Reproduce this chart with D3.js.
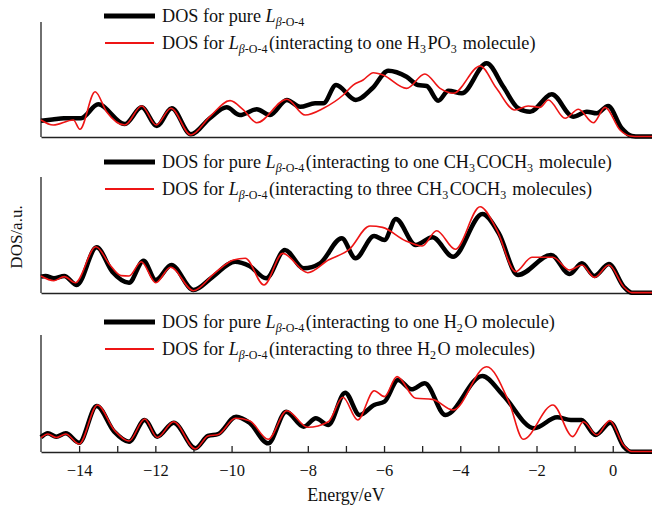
<!DOCTYPE html>
<html>
<head>
<meta charset="utf-8">
<script src="https://cdn.jsdelivr.net/npm/d3@7"></script>
<style>
body { margin: 0; background: #fff; }
text { font-family: "Liberation Serif", "Times New Roman", serif; fill: #111; }
</style>
</head>
<body>
<svg id="dos-chart"></svg>
<script>
(function () {
var width = 652, height = 506

// [energy eV, DOS a.u.], panel 1 (H3PO3)
var pureL = [[-15,1.42],[-14.7,1.52],[-14.4,1.63],[-13.95,1.63],[-13.5,2.84],[-12.8,1.13],[-12.36,2.58],
  [-11.96,0.96],[-11.57,2.5],[-11.07,0.23],[-10.57,1.63],[-10.13,2.58],[-9.78,1.91],[-9.34,2.41],[-8.99,1.91],
  [-8.55,3.22],[-8.2,2.63],[-7.81,2.93],[-7.59,2.93],[-7.26,4.52],[-6.74,3.22],[-6.3,4.26],[-5.89,5.77],
  [-5.41,5.24],[-5.11,4.52],[-4.88,4.43],[-4.58,3.16],[-4.31,4.03],[-3.96,3.8],[-3.31,6.41],[-2.87,4.37],
  [-2.48,2.5],[-2.17,2.2],[-1.6,3.71],[-1.04,1.77],[-0.68,2.2],[-0.42,2.06],[-0.12,2.7],[0.23,0.78],
  [0.5,0.09],[0.7,0.04],[1.03,0.04]]
var withH3PO3 = [[-15,1.48],[-14.68,1.04],[-14.15,1.48],[-13.98,0.67],[-13.58,3.94],[-13.28,2.2],[-12.8,1.04],
  [-12.36,2.7],[-11.98,1.04],[-11.59,2.5],[-11.07,0.17],[-10.57,1.77],[-10.04,3.16],[-9.69,2.35],[-9.34,1.24],
  [-8.55,3.28],[-8.07,1.91],[-7.59,2.5],[-7.07,3.65],[-6.81,4.52],[-6.55,4.96],[-6.28,5.59],[-6.03,5.39],
  [-5.41,4.23],[-4.93,5.48],[-4.53,4.23],[-4.18,3.8],[-3.48,6.17],[-3.05,4.23],[-2.57,2.35],[-2.22,2.7],
  [-1.91,2.58],[-1.69,3.22],[-1.25,1.63],[-0.9,2.41],[-0.51,1.24],[-0.2,2.58],[0.19,0.61],[0.45,0.09],
  [0.7,0.04],[1.03,0.04]]

// panel 2 (CH3COCH3)
var oneAcetone = [[-15,1.41],[-14.88,1.47],[-14.66,1.27],[-14.39,1.47],[-14.06,0.69],[-13.54,3.94],[-13.13,1.84],
  [-12.69,0.89],[-12.31,2.78],[-11.99,1.12],[-11.58,2.41],[-11,0.26],[-10.51,1.35],[-9.91,2.7],[-9.53,2.33],
  [-9.09,1.27],[-8.6,3.71],[-8.11,2.13],[-7.68,2.56],[-7.11,4.72],[-6.75,2.99],[-6.26,4.91],[-5.99,4.57],
  [-5.69,6.38],[-5.17,4.14],[-4.73,4.8],[-4.19,3.13],[-3.42,6.81],[-2.99,5.15],[-2.49,1.55],[-1.62,3.28],
  [-1.13,1.64],[-0.81,2.56],[-0.48,1.47],[-0.1,2.5],[0.29,0.54],[0.5,0.03],[1.03,0.03]]
var threeAcetone = [[-15,1.47],[-14.66,1.06],[-14.39,1.41],[-14.1,0.89],[-13.56,3.99],[-13.19,2.41],[-12.9,1.5],
  [-12.69,1.47],[-12.37,2.7],[-11.99,0.89],[-11.6,2.22],[-11,0.2],[-10.45,1.7],[-9.95,2.84],[-9.64,2.99],
  [-9.15,0.69],[-8.66,3.42],[-8,1.75],[-7.46,2.84],[-6.91,3.77],[-6.37,5.78],[-6.04,5.66],[-5.44,4.51],
  [-5,4.05],[-4.62,5.37],[-4.13,3.77],[-3.48,7.44],[-3.04,5.43],[-2.55,1.84],[-2.12,3.08],[-1.57,3.08],
  [-1.13,1.98],[-0.81,2.41],[-0.48,1.35],[-0.1,2.41],[0.29,0.52],[0.5,0.03],[1.03,0.03]]

// panel 3 (H2O)
var oneWater = [[-15,1.26],[-14.82,1.6],[-14.6,1.31],[-14.35,1.6],[-14,0.79],[-13.54,3.93],[-13.08,1.74],
  [-12.69,0.88],[-12.28,2.74],[-11.95,1.31],[-11.52,2.5],[-10.95,0.32],[-10.62,1.37],[-10.35,1.54],[-9.88,3.02],
  [-9.53,2.5],[-9.04,0.74],[-8.57,3.44],[-8.11,2.16],[-7.79,2.88],[-7.46,2.31],[-7.02,5.07],[-6.64,3.16],
  [-6.26,4.02],[-5.99,4.3],[-5.63,6.15],[-5.28,5.36],[-4.93,5.87],[-4.39,3.16],[-3.42,6.5],[-2.88,4.87],
  [-2.06,2.03],[-1.46,2.97],[-1.1,2.74],[-0.82,2.74],[-0.45,1.45],[-0.06,2.5],[0.29,0.45],[0.48,0.03],[1.03,0.03]]
var threeWater = [[-15,1.22],[-14.82,1.54],[-14.6,1.24],[-14.35,1.54],[-14,0.68],[-13.52,4.02],[-13.08,1.88],
  [-12.69,0.94],[-12.28,2.82],[-11.95,1.24],[-11.52,2.59],[-10.95,0.26],[-10.62,1.37],[-10.35,1.5],[-9.9,2.88],
  [-9.53,2.68],[-9.04,1.09],[-8.55,3.53],[-8,2.11],[-7.46,2.59],[-7.08,4.68],[-6.69,2.74],[-6.26,5.24],
  [-5.99,4.73],[-5.66,6.44],[-5.17,4.59],[-4.73,4.5],[-4.19,3.59],[-3.31,7.29],[-2.71,4.16],[-2.35,1.09],
  [-1.57,4.02],[-1.05,1.31],[-0.77,2.59],[-0.42,1.45],[-0.08,2.68],[0.28,0.6],[0.5,0.04],[1.03,0.04]]

var majorTicks = [-14, -12, -10, -8, -6, -4, -2, 0]
var minorTicks = [-13, -11, -9, -7, -5, -3, -1]

// legend text as [text, style] runs: i = italic, s = subscript
var Lsub = [['L', 'i'], ['\u03b2', 'si'], ['-O-4', 's']]
var legendTexts = [
  [[['DOS for pure ', '']].concat(Lsub),
   [['DOS for ', '']].concat(Lsub, [['(interacting to one H', ''], ['3', 's'], ['PO', ''], ['3', 's'], [' molecule)', '']])],
  [[['DOS for pure ', '']].concat(Lsub, [['(interacting to one CH', ''], ['3', 's'], ['COCH', ''], ['3', 's'], [' molecule)', '']]),
   [['DOS for ', '']].concat(Lsub, [['(interacting to three CH', ''], ['3', 's'], ['COCH', ''], ['3', 's'], [' molecules)', '']])],
  [[['DOS for pure ', '']].concat(Lsub, [['(interacting to one H', ''], ['2', 's'], ['O molecule)', '']]),
   [['DOS for ', '']].concat(Lsub, [['(interacting to three H', ''], ['2', 's'], ['O molecules)', '']])]
]

var panels = [
  {top: 22, bottom: 137, legendY: 16, black: pureL, red: withH3PO3, legend: legendTexts[0]},
  {top: 177, bottom: 293, legendY: 162, black: oneAcetone, red: threeAcetone, legend: legendTexts[1]},
  {top: 335, bottom: 452, legendY: 322, black: oneWater, red: threeWater, legend: legendTexts[2]}
]

var red = '#ee1515'
var svg = d3.select('#dos-chart')
            .attr('width', width)
            .attr('height', height)

var x = d3.scaleLinear().domain([-15, 1.03]).range([41, 652])

function richText(g, runs, tx, ty) {
    var t = g.append('text')
             .attr('x', tx)
             .attr('y', ty)
             .style('font-size', '18.2px')
    var inSub = false
    runs.forEach(function (r) {
        var s = r[1].indexOf('s') >= 0
        var span = t.append('tspan').text(r[0])
        if (r[1].indexOf('i') >= 0) span.style('font-style', 'italic')
        if (s) span.style('font-size', '12px')
        if (s && !inSub) span.attr('dy', 4.5)
        if (!s && inSub) span.attr('dy', -4.5).attr('dx', 1.5)
        inSub = s
    })
}

panels.forEach(function (p, i) {
    var y = d3.scaleLinear().domain([0, 10]).range([p.bottom, p.top])
    var g = svg.append('g')

    var line = d3.line()
        .x((d) => x(d[0]))
        .y((d) => y(d[1]))
        .curve(d3.curveMonotoneX)

    // axes, bare lines except bottom panel
    g.append('line')
        .attr('x1', x(-15)).attr('x2', x(-15))
        .attr('y1', p.top).attr('y2', p.bottom)
        .attr('stroke', '#222').attr('stroke-width', 1.3)

    var xAxis = g.append('g').attr('transform', 'translate(0,' + p.bottom + ')')
    if (i === panels.length - 1) {
        xAxis.call(d3.axisBottom(x).tickValues(majorTicks).tickSize(-6).tickSizeOuter(0).tickPadding(12))
        xAxis.append('g').call(d3.axisBottom(x).tickValues(minorTicks).tickSize(-6).tickSizeOuter(0).tickFormat(''))
            .select('.domain').remove()
    } else {
        xAxis.call(d3.axisBottom(x).tickValues([]).tickSizeOuter(0))
    }
    xAxis.selectAll('.domain, line').attr('stroke', '#222').attr('stroke-width', 1.3)
    xAxis.selectAll('text')
        .style('font-family', '"Liberation Serif", serif')
        .style('font-size', '16.5px')
        .attr('fill', '#111')

    g.append('path')
        .datum(p.black)
        .attr('d', line)
        .attr('fill', 'none')
        .attr('stroke', '#000')
        .attr('stroke-width', 4.5)
        .attr('stroke-linejoin', 'round')

    g.append('path')
        .datum(p.red)
        .attr('d', line)
        .attr('fill', 'none')
        .attr('stroke', red)
        .attr('stroke-width', 1.6)

    // legend
    var lg = g.append('g')
    lg.append('line')
        .attr('x1', 104).attr('x2', 155)
        .attr('y1', p.legendY).attr('y2', p.legendY)
        .attr('stroke', '#000').attr('stroke-width', 5)
    lg.append('line')
        .attr('x1', 105).attr('x2', 154)
        .attr('y1', p.legendY + 27).attr('y2', p.legendY + 27)
        .attr('stroke', red).attr('stroke-width', 2)
    richText(lg, p.legend[0], 162, p.legendY + 5.5)
    richText(lg, p.legend[1], 162, p.legendY + 32.5)
})

svg.append('text')
    .attr('x', 346)
    .attr('y', 501)
    .style('text-anchor', 'middle')
    .style('font-size', '18px')
    .text('Energy/eV')

svg.append('text')
    .attr('transform', 'translate(22,237) rotate(-90)')
    .style('text-anchor', 'middle')
    .style('font-size', '17px')
    .text('DOS/a.u.')
})();
</script>
</body>
</html>
